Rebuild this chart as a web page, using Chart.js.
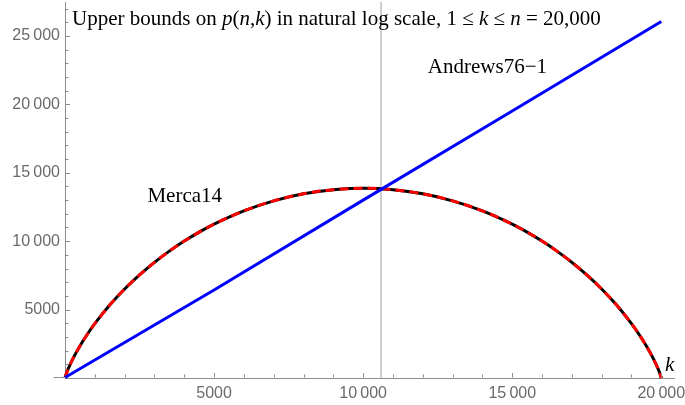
<!DOCTYPE html>
<html>
<head>
<meta charset="utf-8">
<script src="https://cdn.jsdelivr.net/npm/chart.js@4/dist/chart.umd.min.js"></script>
<style>
html,body{margin:0;padding:0;background:#fff;}
#wrap{width:685px;height:405px;position:relative;}
canvas{display:block;}
</style>
</head>
<body>
<div id="wrap"><canvas id="c" width="685" height="405"></canvas></div>
<script>
// ---- data ----
const mercaK = [0, 50, 100, 250, 500, 750, 1000, 1500, 2000, 2500, 3000, 3500, 4000, 4500, 5000, 6000, 7000, 8000, 9000, 10000, 11000, 12000, 13000, 14000, 15000, 15500, 16000, 16500, 17000, 17500, 18000, 18500, 19000, 19250, 19500, 19750, 19900, 19950, 20000];
const mercaValues = [0, 350, 630, 1344, 2338, 3198, 3970, 5328, 6502, 7535, 8454, 9274, 10008, 10663, 11247, 12217, 12949, 13460, 13763, 13863, 13763, 13460, 12949, 12217, 11247, 10663, 10008, 9274, 8454, 7535, 6502, 5328, 3970, 3198, 2338, 1344, 630, 350, 0];
const andrewsK = [0, 5000, 10000, 15000, 20000];
const andrewsValues = [40, 6430, 13000, 19520, 26060];
const markerK = 10600;
const xTickValues = [5000, 10000, 15000, 20000];
const yTickValues = [5000, 10000, 15000, 20000, 25000];
const xRange = [0, 20426];
const yRange = [0, 27480];
const seriesLabels = ['Merca14', 'Andrews76\u22121'];
const labelAnchors = [[2765, 12830], [12170, 22310]];
const axisLabel = 'k';
const titleParts = [
  ['Upper bounds on ', false], ['p', true], ['(', false], ['n', true], [',', false], ['k', true],
  [') in natural log scale, 1 ', false], ['\u2264', false], [' ', false], ['k', true], [' ', false],
  ['\u2264', false], [' ', false], ['n', true], [' = 20,000', false]
];

const axisColor = '#8c8c8c';
const tickLabelColor = '#6a6a6a';
const serif = '"Liberation Serif", "Times New Roman", serif';

function fmt(v) {
  const s = String(v);
  return s.length > 4 ? s.slice(0, s.length - 3) + '\u2009' + s.slice(-3) : s;
}

const annot = {
  id: 'annot',
  afterDraw(chart) {
    const {ctx, scales: {x, y}, chartArea} = chart;
    ctx.save();
    ctx.strokeStyle = axisColor;
    ctx.lineWidth = 1;
    const y0 = Math.round(y.getPixelForValue(0)) - 0.5;
    const x0 = Math.round(x.getPixelForValue(0)) + 0.5;
    // x-axis stub left of origin
    ctx.beginPath(); ctx.moveTo(x0 - 12, y0); ctx.lineTo(x0, y0); ctx.stroke();
    // minor / major ticks (inward)
    for (let v = 1000; v <= x.max; v += 1000) {
      const px = Math.round(x.getPixelForValue(v)) + 0.5;
      const len = v % 5000 === 0 ? 4.5 : 3;
      ctx.beginPath(); ctx.moveTo(px, y0); ctx.lineTo(px, y0 - len); ctx.stroke();
    }
    for (let v = 1000; v <= y.max; v += 1000) {
      const py = Math.round(y.getPixelForValue(v)) + 0.5;
      const len = v % 5000 === 0 ? 4.5 : 3;
      ctx.beginPath(); ctx.moveTo(x0, py); ctx.lineTo(x0 + len, py); ctx.stroke();
    }
    // series labels
    ctx.fillStyle = '#000';
    ctx.textBaseline = 'alphabetic';
    ctx.textAlign = 'left';
    ctx.font = '21px ' + serif;
    seriesLabels.forEach((t, i) => {
      ctx.fillText(t, x.getPixelForValue(labelAnchors[i][0]), y.getPixelForValue(labelAnchors[i][1]));
    });
    // axis label k
    ctx.font = 'italic 21px ' + serif;
    ctx.fillText(axisLabel, x.getPixelForValue(20120), y.getPixelForValue(500));
    // title
    let tx = chartArea.left + 7;
    const ty = chartArea.top + 23;
    titleParts.forEach(([t, it]) => {
      ctx.font = (it ? 'italic ' : '') + '21px ' + serif;
      ctx.fillText(t, tx, ty);
      tx += ctx.measureText(t).width;
    });
    ctx.restore();
  }
};

const pts = (ks, vs) => ks.map((k, i) => ({x: k, y: vs[i]}));

new Chart(document.getElementById('c'), {
  type: 'scatter',
  data: {
    datasets: [
      {label: seriesLabels[1], data: pts(andrewsK, andrewsValues), showLine: true, borderColor: '#0000ff', borderWidth: 3, pointRadius: 0, clip: false},
      {label: seriesLabels[0], data: pts(mercaK, mercaValues), showLine: true, borderColor: '#ff0000', borderWidth: 3, borderDash: [9, 5], pointRadius: 0, cubicInterpolationMode: 'monotone', clip: false},
      {label: seriesLabels[0] + ' (exact)', data: pts(mercaK, mercaValues), showLine: true, borderColor: '#000000', borderWidth: 3, pointRadius: 0, cubicInterpolationMode: 'monotone', clip: false},
      {label: 'k = ' + markerK, data: [{x: markerK, y: yRange[0]}, {x: markerK, y: yRange[1]}], showLine: true, borderColor: '#c2c2c2', borderWidth: 1.6, pointRadius: 0, clip: false}
    ]
  },
  options: {
    responsive: false,
    animation: false,
    devicePixelRatio: 1,
    layout: {padding: {left: 0, right: 11, top: 2, bottom: 0}},
    plugins: {legend: {display: false}, tooltip: {enabled: false}, title: {display: false}},
    scales: {
      x: {
        type: 'linear', position: 'bottom', min: xRange[0], max: xRange[1],
        grid: {display: false, drawTicks: false},
        border: {display: true, color: axisColor, width: 1},
        afterBuildTicks: s => { s.ticks = xTickValues.map(v => ({value: v})); },
        afterFit: s => { s.height = 27; s.paddingLeft = 0; s.paddingRight = 0; },
        ticks: {autoSkip: false, maxRotation: 0, padding: 6, color: tickLabelColor, font: {family: '"Liberation Sans", Arial, sans-serif', size: 16}, callback: v => fmt(v)}
      },
      y: {
        type: 'linear', position: 'left', min: yRange[0], max: yRange[1],
        grid: {display: false, drawTicks: false},
        border: {display: true, color: axisColor, width: 1},
        afterBuildTicks: s => { s.ticks = yTickValues.map(v => ({value: v})); },
        afterFit: s => { s.width = 65; s.paddingTop = 0; s.paddingBottom = 0; },
        ticks: {autoSkip: false, padding: 5, color: tickLabelColor, font: {family: '"Liberation Sans", Arial, sans-serif', size: 16}, callback: v => fmt(v)}
      }
    }
  },
  plugins: [annot]
});
</script>
</body>
</html>
